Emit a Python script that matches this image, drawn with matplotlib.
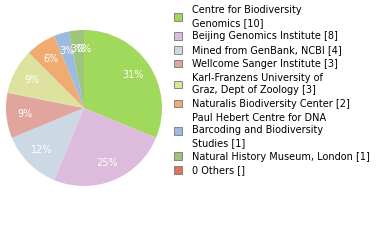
import matplotlib.pyplot as plt
from matplotlib.patches import Patch

labels = ["Centre for Biodiversity\nGenomics [10]",
          "Beijing Genomics Institute [8]",
          "Mined from GenBank, NCBI [4]",
          "Wellcome Sanger Institute [3]",
          "Karl-Franzens University of\nGraz, Dept of Zoology [3]",
          "Naturalis Biodiversity Center [2]",
          "Paul Hebert Centre for DNA\nBarcoding and Biodiversity\nStudies [1]",
          "Natural History Museum, London [1]",
          "0 Others []"]
values = [10, 8, 4, 3, 3, 2, 1, 1, 0]
colors = ["#a0d95c", "#dcbbdd", "#ccd8e4", "#e0a59c", "#dde29f",
          "#f0ab70", "#9dbbe0", "#9fc47c", "#e0735c"]

fig = plt.figure(figsize=(3.8, 2.4), dpi=100)
ax = fig.add_axes([0.221 - 0.206, 0.55 - 0.325, 0.412, 0.65])

ax.pie(values, colors=colors, startangle=90, counterclock=False,
       autopct=lambda p: "%d%%" % int(p), pctdistance=0.76,
       wedgeprops=dict(linewidth=0),
       textprops=dict(color="white", fontsize=7))
ax.set_aspect("equal")
ax.set_xlim(-1, 1)
ax.set_ylim(-1, 1)

handles = [Patch(facecolor=c, edgecolor="#777777", linewidth=0.6) for c in colors]
leg = fig.legend(handles, labels, loc="upper left", bbox_to_anchor=(0.447, 0.995),
                 frameon=False, fontsize=7, handlelength=0.85, handleheight=0.85,
                 handletextpad=1.0, labelspacing=0.38, borderaxespad=0.0)
for t in leg.get_texts():
    t.set_linespacing(1.33)

fig.savefig("out.png", dpi=100)
